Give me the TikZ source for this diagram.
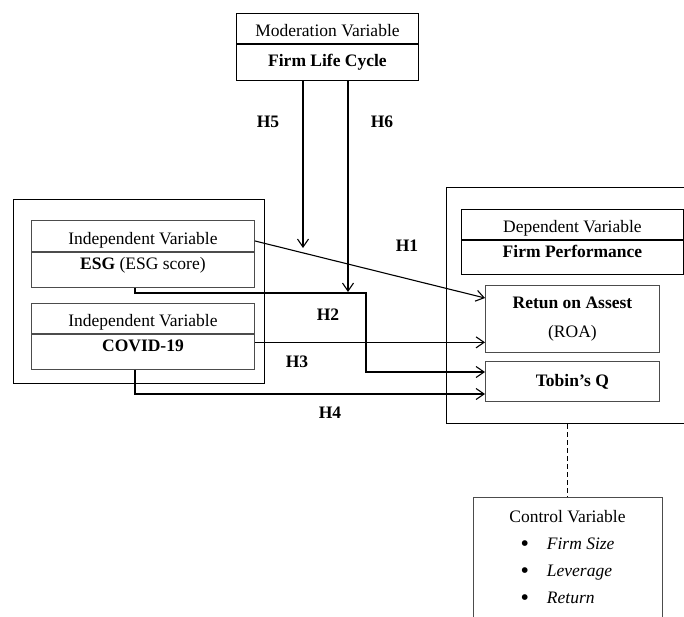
\documentclass[tikz,border=0pt]{standalone}
\usepackage{fontspec}
\setmainfont{Liberation Serif}
\usetikzlibrary{positioning,calc,arrows.meta}
\newcommand\diagfont{\fontsize{17.5}{21}\selectfont}
\newcommand\ctrlbullet{\raisebox{-2pt}{\fontsize{24}{27}\selectfont\textbullet}}
\tikzset{>={Straight Barb[length=8pt,width=11pt]}}
\tikzset{
  outerbox/.style={draw=black, line width=1.2pt, inner sep=0pt, anchor=north west},
  depbox/.style={draw=black!70, line width=0.9pt, inner sep=0pt, anchor=north west},
  headbox/.style={depbox, text height=17pt, text depth=0pt},
  bodybox/.style={draw=black!70, line width=0.9pt, inner sep=0pt, anchor=north, text height=10pt, text depth=10pt, font=\diagfont\bfseries},
  hyplabel/.style={font=\diagfont\bfseries, inner sep=0pt},
  link/.style={->, line width=1.1pt}
}

\begin{document}
\begin{tikzpicture}[x=1pt,y=-1pt,font=\diagfont]
		\useasboundingbox (0,0) rectangle (684,616);
		% moderation variable
		\node[headbox, draw=black, minimum width=182pt, minimum height=30pt] (modhead) at (236,13) {Moderation Variable};
		\node[bodybox, draw=black, minimum width=182pt, minimum height=36pt, text height=12pt, text depth=4pt] (modbody) at (modhead.south) {Firm Life Cycle};
		% independent variables
		\node[outerbox, minimum width=251pt, minimum height=184pt] (indep) at (13,199) {};
		\node[headbox, minimum width=223pt, minimum height=31pt] (esghead) at (31,220) {Independent Variable};
		\node[bodybox, minimum width=223pt, minimum height=35pt] (esgbody) at (esghead.south) {ESG \mdseries(ESG score)};
		\node[headbox, minimum width=223pt, minimum height=30pt] (covidhead) at (31,303) {Independent Variable};
		\node[bodybox, minimum width=223pt, minimum height=35pt] (covidbody) at (covidhead.south) {COVID-19};
		% dependent variable
		\node[outerbox, minimum width=260pt, minimum height=236pt] (perf) at (446,187) {};
		\node[headbox, draw=black, minimum width=222pt, minimum height=30pt] (dephead) at (461,209) {Dependent Variable};
		\node[bodybox, draw=black, minimum width=222pt, minimum height=34pt] (depbody) at (dephead.south) {Firm Performance};
		\node[depbox, minimum width=174pt, minimum height=67pt, align=center, font=\fontsize{17.5}{29}\selectfont] (roa) at (485,285) {\textbf{Retun on Assest}\\(ROA)};
		\node[depbox, minimum width=174pt, minimum height=40pt, font=\diagfont\bfseries] (tobin) at (485,361) {Tobin's Q};
		% control variable
		\node[draw=black!70, line width=0.9pt, anchor=north, minimum width=189pt, inner ysep=6pt, font=\fontsize{17.5}{27}\selectfont] (ctrl) at (567.5,497)
			{\begin{tabular}{@{}c@{}}Control Variable\\
			\begin{tabular}{@{}l@{\hspace{18pt}}l@{}}\ctrlbullet & \textit{Firm Size}\\ \ctrlbullet & \textit{Leverage}\\ \ctrlbullet & \textit{Return}\\[20pt]\end{tabular}\end{tabular}};
		\draw[line width=1.1pt, dash pattern=on 5pt off 3pt] (ctrl.north |- perf.south) -- (ctrl.north);
		% hypotheses
		\coordinate (h5end) at (303,248);
		\coordinate (h6end) at (348,292);
		\coordinate (esgdrop) at (135,293);
		\coordinate (esgstep) at (366,372);
		\coordinate (coviddrop) at (135,394);
		\coordinate (covidout) at ([yshift=9.5pt]covidbody.east);
		\draw[link] (modbody.south -| h5end) -- (h5end);
		\draw[link] (modbody.south -| h6end) -- (h6end);
		\draw[link] ([yshift=-5pt]esghead.east) -- ([yshift=-13pt]roa.north west);
		\draw[link] (esgbody.south -| esgdrop) |- (esgstep |- esgdrop) |- (tobin.west |- esgstep);
		\draw[link] (covidout) -- (covidout -| roa.west);
		\draw[link] (covidbody.south -| coviddrop) |- (coviddrop -| tobin.west);
		\node[hyplabel] (h5) at (268,122) {H5};
		\node[hyplabel] (h6) at (382,122) {H6};
		\node[hyplabel] (h1) at (407,246) {H1};
		\node[hyplabel] (h2) at (328,315) {H2};
		\node[hyplabel] (h3) at (297,362) {H3};
		\node[hyplabel] (h4) at (330,413) {H4};
	\end{tikzpicture}
\end{document}
